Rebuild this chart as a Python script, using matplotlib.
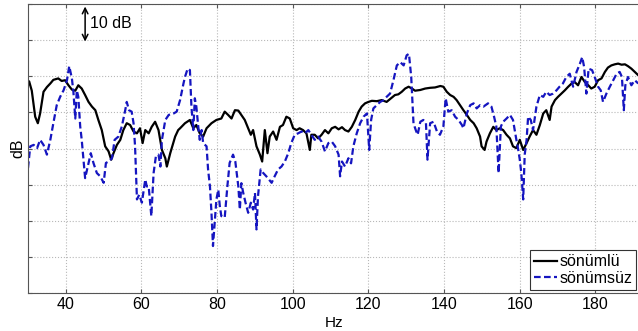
import matplotlib
matplotlib.use("Agg")
import matplotlib.pyplot as plt

plt.rcParams["font.family"] = ["Liberation Sans", "DejaVu Sans"]

# sönümlü (black, solid)
hz_damped = [30.0, 30.3, 31.0, 31.9, 32.6, 33.2, 34.1, 35.0, 35.9, 36.7, 38.0, 38.9, 39.8,
             40.7, 41.6, 42.5, 43.3, 44.2, 45.1, 46.0, 46.9, 47.8, 48.6, 49.5, 50.4,
             51.3, 52.0, 52.6, 53.5, 54.4, 55.2, 56.1, 57.0, 57.9, 58.8, 59.6, 60.3,
             61.0, 61.9, 62.7, 63.6, 64.5, 65.4, 66.3, 66.7, 67.6, 68.9, 69.7, 70.2,
             71.5, 72.8, 73.7, 74.5, 75.4, 76.3, 77.2, 78.5, 79.8, 81.1, 82.0, 82.9,
             83.8, 84.7, 85.6, 86.4, 87.3, 88.2, 88.9, 89.5, 90.4, 91.3, 91.9, 92.6,
             93.3, 93.9, 94.8, 95.7, 96.6, 97.4, 98.3, 99.2, 100.1, 101.0, 101.8,
             102.7, 103.6, 104.5, 104.9, 105.8, 106.7, 107.6, 108.5, 109.4, 110.3,
             111.2, 112.1, 113.0, 113.8, 114.7, 115.6, 116.5, 117.4, 118.2, 119.1,
             120.0, 120.9, 122.2, 123.5, 124.8, 126.2, 127.0, 127.9, 128.8, 129.7,
             130.6, 131.5, 132.3, 133.7, 135.0, 136.3, 137.6, 139.0, 139.8, 140.7,
             141.6, 142.5, 143.3, 144.2, 145.1, 146.0, 146.9, 147.8, 148.6, 149.5,
             149.9, 150.7, 151.2, 152.1, 153.0, 153.8, 154.7, 155.6, 156.5, 157.4,
             158.2, 159.1, 160.0, 160.9, 161.8, 162.6, 163.5, 164.4, 165.3, 166.2,
             167.0, 167.9, 168.4, 169.3, 170.1, 171.0, 171.9, 172.8, 173.7, 174.5,
             175.4, 176.3, 177.2, 178.1, 178.9, 179.8, 180.7, 181.6, 182.5, 183.3,
             184.2, 185.1, 186.0, 186.9, 187.8, 188.6, 189.5, 190.4, 191.3]
db_damped = [57.5, 58.6, 56.0, 48.8, 47.0, 49.7, 55.7, 57.0, 58.0, 59.0, 59.4, 58.7, 58.9,
             57.5, 56.3, 56.0, 57.5, 56.6, 54.8, 52.9, 51.6, 50.6, 47.9, 45.1, 40.6,
             39.2, 36.9, 38.7, 41.0, 42.4, 45.1, 47.0, 46.5, 44.7, 44.2, 45.6, 41.5,
             45.1, 44.2, 46.0, 47.4, 45.1, 39.6, 37.3, 35.0, 38.7, 43.3, 45.1, 45.6,
             47.0, 47.9, 45.6, 46.5, 44.2, 43.3, 45.6, 47.0, 47.9, 48.3, 50.2, 49.3,
             48.3, 50.6, 50.5, 49.3, 47.9, 45.6, 43.8, 45.1, 40.6, 38.3, 36.4, 45.1,
             38.7, 43.3, 44.7, 42.4, 46.0, 46.5, 48.8, 48.3, 45.6, 45.1, 45.6,
             45.1, 44.2, 39.6, 43.8, 43.8, 42.8, 43.8, 45.1, 44.2, 45.6,
             46.0, 45.3, 45.9, 45.1, 44.7, 46.0, 47.9, 50.2, 51.6, 52.5,
             52.9, 53.2, 53.1, 53.4, 52.9, 54.1, 54.8, 55.0, 55.7, 56.6,
             57.1, 56.6, 56.0, 56.2, 56.6, 56.8, 56.9, 57.3, 57.1, 55.7,
             54.8, 54.3, 53.4, 52.0, 50.6, 49.3, 47.9, 47.0, 45.6, 43.3,
             40.6, 39.6, 41.9, 44.2, 46.0, 45.1, 45.6, 45.1, 43.8, 42.8,
             40.6, 40.1, 42.4, 39.6, 41.5, 43.3, 45.1, 43.8, 46.5, 49.7,
             50.6, 47.9, 51.6, 53.4, 54.3, 55.2, 56.1, 57.1, 58.0, 58.4,
             57.5, 59.8, 58.4, 57.5, 56.6, 57.1, 58.9, 59.4, 61.2, 62.4,
             63.0, 63.3, 63.5, 63.2, 63.3, 62.8, 62.1, 61.2, 60.3]

# sönümsüz (blue, dashed)
hz_undamped = [30.0, 30.6, 31.5, 32.4, 33.2, 34.1, 35.0, 35.9, 36.7, 37.6, 38.5, 39.4,
               40.3, 40.9, 41.6, 42.0, 42.5, 42.9, 43.3, 43.8, 44.2, 45.1, 46.0, 46.6,
               47.3, 48.2, 49.1, 50.0, 50.6, 51.3, 52.2, 52.9, 53.9, 54.8, 55.7, 56.1,
               56.7, 57.4, 57.9, 58.3, 58.8, 59.4, 60.1, 61.0, 61.4, 61.9, 62.6, 63.2,
               63.8, 64.5, 65.0, 65.4, 66.3, 67.2, 68.5, 69.3, 70.2, 71.1, 71.5, 72.2,
               72.8, 73.2, 73.7, 74.1, 74.5, 75.0, 75.4, 75.9, 76.3, 77.2, 77.6, 78.1,
               78.5, 78.9, 79.4, 79.8, 80.3, 80.7, 81.1, 82.0, 82.7, 83.3, 84.2, 84.8,
               85.6, 86.0, 86.4, 86.9, 87.5, 88.2, 88.9, 89.5, 90.0, 90.4, 90.8, 91.5,
               92.2, 93.0, 94.4, 95.2, 96.1, 97.0, 97.9, 98.8, 99.6, 100.5, 101.4,
               102.3, 103.2, 104.1, 104.9, 105.8, 106.7, 107.6, 108.5, 109.4, 110.3,
               111.2, 112.1, 112.5, 113.0, 113.8, 114.7, 115.4, 116.0, 116.9, 117.8,
               118.7, 119.6, 120.2, 120.7, 121.3, 122.2, 123.1, 124.0, 124.8, 125.7,
               126.6, 127.5, 128.4, 129.3, 130.1, 130.7, 131.3, 131.9, 132.5, 133.0,
               133.7, 134.5, 135.2, 135.6, 136.3, 137.2, 138.1, 138.9, 139.8, 140.4,
               141.1, 142.0, 142.9, 143.8, 144.7, 145.1, 146.0, 146.9, 147.8, 148.6,
               149.5, 150.4, 151.6, 152.5, 153.2, 153.8, 154.4, 155.0, 155.6, 156.5,
               157.4, 158.2, 159.1, 159.6, 160.0, 160.4, 160.9, 161.3, 161.8, 162.2,
               162.9, 163.5, 164.4, 165.3, 166.2, 167.0, 167.9, 168.8, 169.7, 170.5,
               171.4, 172.3, 173.2, 174.1, 175.0, 175.9, 176.5, 177.0, 177.6, 178.2,
               179.1, 179.8, 180.7, 181.4, 182.0, 182.9, 183.8, 184.7, 185.6, 186.4,
               187.0, 187.5, 187.9, 188.6, 189.5, 190.4, 191.3]
db_undamped = [34.6, 40.6, 41.0, 40.1, 42.4, 41.0, 38.3, 42.4, 47.0, 52.0, 54.3, 56.1,
               58.9, 62.8, 59.4, 55.7, 48.3, 56.1, 54.3, 46.1, 42.4, 31.8, 36.0, 38.7,
               36.0, 33.2, 32.3, 30.5, 36.0, 36.4, 37.3, 42.4, 43.3, 46.1, 50.6, 52.9,
               50.6, 50.2, 47.0, 40.6, 25.9, 27.2, 25.0, 31.4, 29.5, 29.5, 21.3, 33.2,
               37.8, 38.3, 35.0, 42.4, 47.9, 49.3, 49.7, 50.2, 53.4, 58.0, 59.8, 62.1,
               61.7, 51.6, 45.1, 53.9, 51.6, 46.1, 42.4, 45.1, 41.5, 40.6, 34.2, 29.5,
               22.2, 13.0, 20.4, 25.9, 28.6, 24.1, 21.3, 20.9, 29.5, 36.0, 38.3, 36.4,
               29.5, 23.1, 30.4, 27.7, 25.0, 22.2, 25.0, 23.1, 27.7, 17.6, 26.8, 34.2,
               33.2, 32.3, 30.5, 32.3, 34.2, 35.0, 36.4, 38.7, 41.5, 43.8, 44.2,
               44.7, 44.2, 45.1, 43.8, 42.4, 43.3, 41.9, 39.2, 41.5, 41.9,
               40.6, 38.3, 32.3, 36.4, 35.0, 37.3, 35.9, 40.6, 44.2, 47.0,
               48.8, 49.7, 39.6, 47.9, 51.1, 52.0, 52.9, 53.4, 54.3, 55.2,
               58.9, 63.0, 63.9, 63.0, 65.8, 66.2, 59.8, 47.0, 45.1, 43.8,
               47.4, 47.9, 47.0, 36.9, 47.0, 47.4, 44.7, 43.8, 46.1, 53.9,
               50.2, 50.6, 48.8, 47.9, 46.5, 45.6, 49.7, 52.0, 52.5, 51.1,
               52.0, 51.6, 52.5, 51.6, 48.8, 46.1, 33.2, 46.1, 47.4, 48.3,
               49.3, 47.9, 42.4, 39.6, 36.9, 33.2, 25.9, 38.3, 42.4, 48.8,
               47.9, 45.1, 51.6, 54.8, 54.3, 55.7, 54.8, 55.2, 56.1, 57.1,
               58.0, 59.8, 60.7, 57.1, 61.2, 63.5, 65.3, 62.6, 55.2, 62.1,
               61.7, 59.8, 57.1, 56.1, 52.9, 55.2, 57.1, 58.9, 60.7, 61.2,
               59.8, 50.6, 57.5, 59.8, 57.5, 58.9, 58.0]

x_ticks = [40, 60, 80, 100, 120, 140, 160, 180]
y_ticks = [0, 10, 20, 30, 40, 50, 60, 70, 80]

W, H = 638, 331
fig = plt.figure(figsize=(W / 100, H / 100), dpi=100)
ax = fig.add_axes([28 / W, 38 / H, 612 / W, 289 / H])

ax.plot(hz_damped, db_damped, "-", color="black", lw=1.6, label="sönümlü")
ax.plot(hz_undamped, db_undamped, "--", color="#1515c0", lw=1.6,
        dashes=(3, 1.5), label="sönümsüz")

ax.set_xlim(30, 30 + 612 / 3.783)
ax.set_ylim(0, 80)
ax.set_xticks(x_ticks)
ax.set_yticks(y_ticks)
ax.set_yticklabels([])
ax.tick_params(direction="in", length=3, labelsize=11.5, color="#555555", pad=3)
ax.tick_params(axis="x", top=True)
ax.tick_params(axis="y", right=False)
ax.grid(True, linestyle=":", color="#b8b8b8", lw=0.8)
for side in ["left", "top", "bottom"]:
    ax.spines[side].set_color("#555555")
    ax.spines[side].set_linewidth(0.8)
ax.spines["right"].set_visible(False)

ax.set_xlabel("Hz", fontsize=11, labelpad=3)
ax.set_ylabel("dB", fontsize=11.5, labelpad=-1)

# 10 dB scale arrow
ax.annotate("", xy=(45.1, 79.3), xytext=(45.1, 69.6),
            arrowprops=dict(arrowstyle="<->", color="black", lw=1.1,
                            mutation_scale=10, shrinkA=0, shrinkB=0))
ax.text(46.3, 74.6, "10 dB", fontsize=11.5, va="center", ha="left")

leg = ax.legend(loc="lower right", bbox_to_anchor=(636 / W, 41 / H),
                bbox_transform=fig.transFigure, fontsize=11.5, handlelength=1.4,
                handletextpad=0.15, borderpad=0.25, labelspacing=0.1,
                fancybox=False, framealpha=1, borderaxespad=0)
leg.get_frame().set_edgecolor("#333333")
leg.get_frame().set_linewidth(0.8)

fig.savefig("out.png", dpi=100)
